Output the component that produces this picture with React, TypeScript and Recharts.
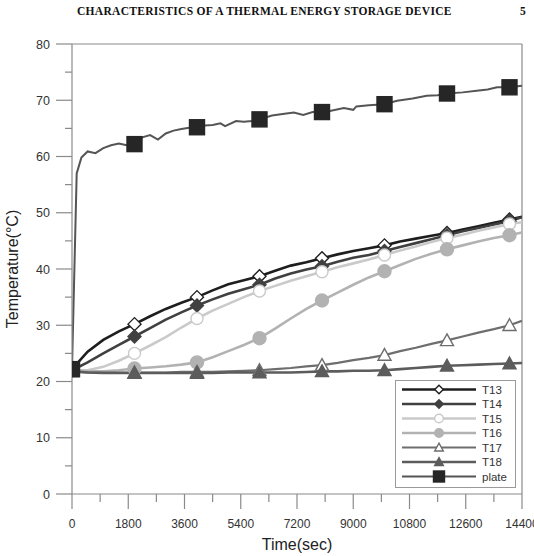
import React from "react";
import { LineChart, Line, XAxis, YAxis, ReferenceLine } from "recharts";

// time axis (s) shared by the sensor curves T13..T18
const sensorTime = [
  0, 500, 1000, 1500, 2000, 2500, 3000, 3500, 4000, 4500, 5000, 5500, 6000, 6500, 7000,
  7500, 8000, 8500, 9000, 9500, 10000, 10500, 11000, 11500, 12000, 12500, 13000, 13500,
  14000, 14400,
];

const t13 = [
  22.2, 25.3, 27.4, 28.9, 30.2, 31.6, 32.9, 34.0, 35.0, 36.2, 37.3, 38.0, 38.7, 39.7, 40.6,
  41.2, 41.9, 42.6, 43.2, 43.7, 44.2, 44.9, 45.4, 45.9, 46.4, 47.0, 47.6, 48.2, 48.8, 49.3,
];
const t14 = [
  22.0, 23.4, 25.0, 26.5, 28.0, 29.5, 31.0, 32.3, 33.5, 34.6, 35.6, 36.4, 37.2, 38.3, 39.2,
  39.9, 40.5, 41.3, 42.0, 42.5, 43.2, 43.9, 44.6, 45.3, 46.0, 46.7, 47.3, 47.9, 48.5, 49.2,
];
const t15 = [
  22.0, 22.0, 22.6, 23.7, 25.0, 26.4, 27.9, 29.6, 31.2, 32.6, 33.8, 35.0, 36.1, 37.0, 37.9,
  38.7, 39.5, 40.3, 41.0, 41.7, 42.5, 43.3, 44.0, 44.8, 45.5, 46.1, 46.8, 47.4, 48.0, 48.3,
];
const t16 = [
  22.0, 21.8, 21.8, 22.0, 22.3, 22.5, 22.7, 23.0, 23.4, 24.3, 25.4, 26.5, 27.7, 29.4, 31.2,
  32.9, 34.4, 35.8, 37.2, 38.5, 39.6, 40.7, 41.8, 42.7, 43.5, 44.2, 44.9, 45.5, 46.0, 46.5,
];
const t17 = [
  21.8, 21.6, 21.6, 21.6, 21.6, 21.6, 21.6, 21.7, 21.7, 21.7, 21.8, 21.9, 22.0, 22.2, 22.4,
  22.7, 22.9, 23.3, 23.8, 24.2, 24.7, 25.4, 26.0, 26.7, 27.3, 28.0, 28.7, 29.3, 30.0, 30.8,
];
const t18 = [
  21.8, 21.6, 21.5, 21.5, 21.5, 21.5, 21.5, 21.5, 21.5, 21.5, 21.6, 21.6, 21.6, 21.6, 21.6,
  21.7, 21.8, 21.8, 21.9, 21.9, 22.0, 22.2, 22.4, 22.6, 22.8, 22.9, 23.0, 23.1, 23.2, 23.3,
];

// plate temperature is noisier, so it keeps its own time base
const plateTime = [
  0, 150, 300, 500, 750, 1000, 1250, 1500, 1750, 2000, 2250, 2500, 2750, 3000, 3250, 3500,
  3750, 4000, 4250, 4500, 4750, 4900, 5250, 5500, 5750, 6000, 6400, 6800, 7100, 7400, 7700,
  8000, 8250, 8700, 9000, 9100, 9500, 10000, 10400, 10900, 11350, 11700, 12000, 12500,
  12950, 13300, 13600, 14000, 14400,
];
const plateTemp = [
  22.2, 57.0, 59.8, 60.9, 60.6, 61.5, 62.0, 62.3, 62.0, 62.2, 63.4, 63.8, 63.0, 64.1, 64.6,
  64.9, 65.1, 65.2, 65.5, 65.6, 65.9, 65.4, 66.3, 66.2, 66.3, 66.6, 67.3, 67.6, 67.8, 67.4,
  67.9, 67.9, 68.1, 68.6, 68.3, 68.9, 69.1, 69.3, 69.9, 70.3, 70.8, 70.9, 71.2, 71.4, 71.7,
  71.9, 72.3, 72.3, 72.6,
];

const markerTime = [0, 2000, 4000, 6000, 8000, 10000, 12000, 14000];

const xTicks = [
  0, 900, 1800, 2700, 3600, 4500, 5400, 6300, 7200, 8100, 9000, 9900, 10800, 11700, 12600,
  13500, 14400,
];
const xLabels = [0, 1800, 3600, 5400, 7200, 9000, 10800, 12600, 14400];
const yTicks = [0, 5, 10, 15, 20, 25, 30, 35, 40, 45, 50, 55, 60, 65, 70, 75, 80];
const yLabels = [0, 10, 20, 30, 40, 50, 60, 70, 80];

type Shape = "diamond" | "circle" | "triangle" | "square";

const series = [
  { name: "T13", time: sensorTime, values: t13, color: "#1e1e1e", shape: "diamond" as Shape, open: true, w: 2.6, s: 6.5 },
  { name: "T14", time: sensorTime, values: t14, color: "#404040", shape: "diamond" as Shape, open: false, w: 2.6, s: 6.5 },
  { name: "T15", time: sensorTime, values: t15, color: "#cacaca", shape: "circle" as Shape, open: true, w: 2.6, s: 6 },
  { name: "T16", time: sensorTime, values: t16, color: "#b2b2b2", shape: "circle" as Shape, open: false, w: 2.6, s: 6.5 },
  { name: "T17", time: sensorTime, values: t17, color: "#6e6e6e", shape: "triangle" as Shape, open: true, w: 2.2, s: 6.5 },
  { name: "T18", time: sensorTime, values: t18, color: "#5c5c5c", shape: "triangle" as Shape, open: false, w: 2.6, s: 6.5 },
  { name: "plate", time: plateTime, values: plateTemp, color: "#555555", shape: "square" as Shape, open: false, w: 2, s: 7.5, fill: "#262626" },
];

const AXIS = "#8a8a8a";
const FONT = "'Liberation Sans', Arial, sans-serif";

function Marker({ shape, cx, cy, s, stroke, fill }: { shape: Shape; cx: number; cy: number; s: number; stroke: string; fill: string }) {
  const common = { stroke, fill, strokeWidth: 1.4 };
  if (shape === "diamond")
    return <polygon points={`${cx},${cy - s} ${cx + s},${cy} ${cx},${cy + s} ${cx - s},${cy}`} {...common} />;
  if (shape === "circle") return <circle cx={cx} cy={cy} r={s} {...common} />;
  if (shape === "triangle")
    return <polygon points={`${cx},${cy - s} ${cx + s},${cy + s * 0.8} ${cx - s},${cy + s * 0.8}`} {...common} />;
  return <rect x={cx - s} y={cy - s} width={s * 2} height={s * 2} {...common} />;
}

function markerFill(ser: (typeof series)[number]) {
  if (ser.open) return "#ffffff";
  return (ser as any).fill ?? ser.color;
}

function makeDot(ser: (typeof series)[number]) {
  return (props: any) => {
    const { cx, cy, payload, index } = props;
    if (!markerTime.includes(payload.t)) return <g key={`${ser.name}-${index}`} />;
    return (
      <g key={`${ser.name}-${index}`}>
        <Marker shape={ser.shape} cx={cx} cy={cy} s={ser.s} stroke={(ser as any).fill ?? ser.color} fill={markerFill(ser)} />
      </g>
    );
  };
}

const XTick = (props: any) => {
  const { x, y, payload } = props;
  const major = xLabels.includes(payload.value);
  return (
    <g>
      <line x1={x} y1={y} x2={x} y2={y + (major ? 15 : 8)} stroke={AXIS} strokeWidth={1.2} />
      {major && (
        <text x={x} y={y + 34} textAnchor="middle" fontSize={12} fill="#333" fontFamily={FONT}>
          {payload.value}
        </text>
      )}
    </g>
  );
};

const YTick = (props: any) => {
  const { x, y, payload } = props;
  const major = yLabels.includes(payload.value);
  return (
    <g>
      <line x1={x - (major ? 16 : 7)} y1={y} x2={x} y2={y} stroke={AXIS} strokeWidth={1.2} />
      {major && (
        <text x={x - 22} y={y + 4.5} textAnchor="end" fontSize={12.5} fill="#333" fontFamily={FONT}>
          {payload.value}
        </text>
      )}
    </g>
  );
};

function LegendBox() {
  return (
    <div
      style={{
        position: "absolute",
        left: 395,
        top: 380,
        width: 121,
        height: 108,
        border: "1px solid #9a9a9a",
        background: "#fff",
        boxSizing: "border-box",
      }}
    >
      <svg width={119} height={106}>
        {series.map((ser, i) => {
          const y = 8.5 + i * 14.5;
          return (
            <g key={ser.name}>
              <line x1={6} y1={y} x2={80} y2={y} stroke={ser.color} strokeWidth={ser.w} />
              <Marker
                shape={ser.shape}
                cx={43}
                cy={y}
                s={ser.shape === "square" ? 5.5 : 4.3}
                stroke={(ser as any).fill ?? ser.color}
                fill={markerFill(ser)}
              />
              <text x={86} y={y + 4} fontSize={11.5} fill="#333" fontFamily={FONT}>
                {ser.name}
              </text>
            </g>
          );
        })}
      </svg>
    </div>
  );
}

export default function App() {
  return (
    <div style={{ position: "absolute", left: 0, top: 0, width: 534, height: 556, overflow: "hidden", background: "#fff" }}>
      <div
        style={{
          position: "absolute",
          left: 77,
          top: 5,
          fontFamily: "'Liberation Serif', 'Times New Roman', serif",
          fontWeight: "bold",
          fontSize: 11.5,
          letterSpacing: 0.3,
          whiteSpace: "nowrap",
          color: "#111",
        }}
      >
        CHARACTERISTICS OF A THERMAL ENERGY STORAGE DEVICE
      </div>
      <div
        style={{
          position: "absolute",
          left: 520,
          top: 5,
          fontFamily: "'Liberation Serif', 'Times New Roman', serif",
          fontWeight: "bold",
          fontSize: 11.5,
          color: "#111",
        }}
      >
        5
      </div>
      <div style={{ position: "absolute", left: 0, top: 0 }}>
        <LineChart width={534} height={556} margin={{ top: 44, right: 12, left: 0, bottom: 0 }}>
          <XAxis
            dataKey="t"
            type="number"
            domain={[0, 14400]}
            ticks={xTicks}
            interval={0}
            tick={<XTick />}
            tickLine={false}
            tickSize={0}
            tickMargin={0}
            height={62}
            axisLine={{ stroke: AXIS, strokeWidth: 1.2 }}
            allowDataOverflow
            label={{ value: "Time(sec)", position: "insideBottom", offset: 6, style: { fontSize: 16, fill: "#222", fontFamily: FONT } }}
          />
          <YAxis
            type="number"
            domain={[0, 80]}
            ticks={yTicks}
            interval={0}
            tick={<YTick />}
            tickLine={false}
            tickSize={0}
            tickMargin={0}
            width={72}
            axisLine={{ stroke: AXIS, strokeWidth: 1.2 }}
            allowDataOverflow
            label={{
              value: "Temperature(°C)",
              angle: -90,
              position: "insideLeft",
              offset: 12,
              style: { fontSize: 16, fill: "#222", fontFamily: FONT, textAnchor: "middle" },
            }}
          />
          <ReferenceLine y={80} stroke={AXIS} strokeWidth={1.2} />
          <ReferenceLine x={14400} stroke={AXIS} strokeWidth={1.2} />
          {series.map((ser) => (
            <Line
              key={ser.name}
              data={ser.time.map((t, i) => ({ t, v: ser.values[i] }))}
              dataKey="v"
              name={ser.name}
              type="linear"
              stroke={ser.color}
              strokeWidth={ser.w}
              dot={makeDot(ser)}
              activeDot={false}
              isAnimationActive={false}
            />
          ))}
        </LineChart>
      </div>
      <LegendBox />
    </div>
  );
}
